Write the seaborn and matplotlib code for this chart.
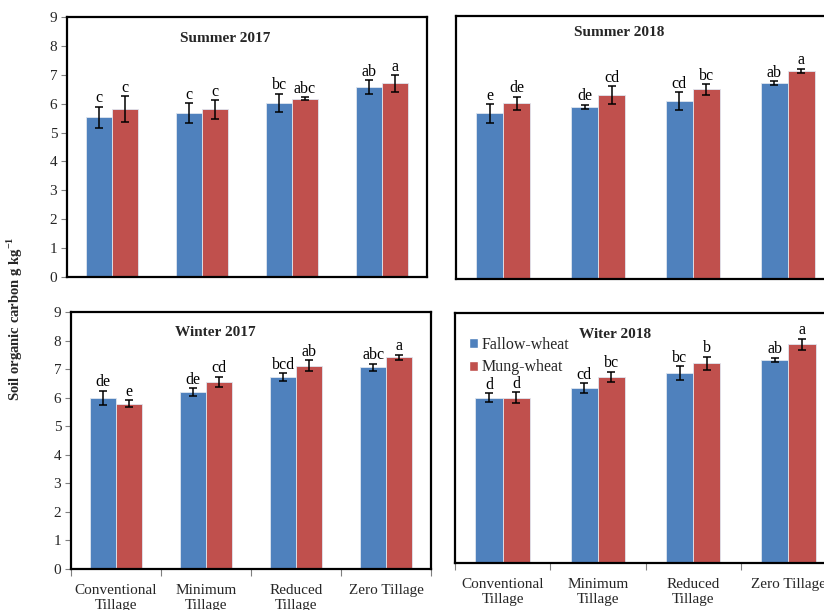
import matplotlib
matplotlib.use("Agg")
import matplotlib.pyplot as plt
import seaborn as sns
import pandas as pd
from matplotlib.ticker import FixedLocator
from matplotlib.patches import Patch

# Tillage treatments and cropping systems
categories = ["Conventional\nTillage", "Minimum\nTillage", "Reduced\nTillage", "Zero Tillage"]
systems = ["Fallow-wheat", "Mung-wheat"]

# Soil organic carbon (g kg-1), means and standard errors per season
summer17_fallow = [5.53, 5.68, 6.03, 6.57]
summer17_mung = [5.80, 5.80, 6.17, 6.70]
summer17_fallow_err = [0.36, 0.34, 0.31, 0.25]
summer17_mung_err = [0.45, 0.32, 0.06, 0.28]
summer17_fallow_lbl = ["c", "c", "bc", "ab"]
summer17_mung_lbl = ["c", "c", "abc", "a"]

summer18_fallow = [5.67, 5.89, 6.09, 6.70]
summer18_mung = [6.01, 6.29, 6.49, 7.13]
summer18_fallow_err = [0.32, 0.07, 0.31, 0.07]
summer18_mung_err = [0.23, 0.30, 0.18, 0.07]
summer18_fallow_lbl = ["e", "de", "cd", "ab"]
summer18_mung_lbl = ["de", "cd", "bc", "a"]

winter17_fallow = [6.00, 6.20, 6.72, 7.06]
winter17_mung = [5.79, 6.55, 7.12, 7.41]
winter17_fallow_err = [0.25, 0.13, 0.14, 0.13]
winter17_mung_err = [0.13, 0.18, 0.20, 0.09]
winter17_fallow_lbl = ["de", "de", "bcd", "abc"]
winter17_mung_lbl = ["e", "cd", "ab", "a"]

winter18_fallow = [5.95, 6.29, 6.83, 7.32]
winter18_mung = [5.95, 6.69, 7.19, 7.88]
winter18_fallow_err = [0.16, 0.18, 0.25, 0.07]
winter18_mung_err = [0.19, 0.19, 0.23, 0.20]
winter18_fallow_lbl = ["d", "cd", "bc", "ab"]
winter18_mung_lbl = ["d", "bc", "b", "a"]

y_ticks = [0, 1, 2, 3, 4, 5, 6, 7, 8, 9]

BLUE = "#4F81BD"
RED = "#C0504D"

sns.set_theme(style="white")
plt.rcParams["font.family"] = ["Liberation Serif", "DejaVu Serif"]
plt.rcParams["mathtext.fontset"] = "custom"
plt.rcParams["mathtext.rm"] = "Liberation Serif"
plt.rcParams["mathtext.bf"] = "Liberation Serif:bold"

FS = 10.5

fig = plt.figure(figsize=(8.24, 6.10), dpi=100)

W, H = 824.0, 610.0


def rect(left, right, top, bottom):
    return [left / W, (H - bottom) / H, (right - left) / W, (bottom - top) / H]


panels = [
    dict(pos=rect(67, 427, 17, 277), title="Summer 2017", tpos=(225, 38),
         f=summer17_fallow, m=summer17_mung, fe=summer17_fallow_err, me=summer17_mung_err,
         fl=summer17_fallow_lbl, ml=summer17_mung_lbl, yt=True, xt=False, legend=False),
    dict(pos=rect(456, 835, 16, 279), title="Summer 2018", tpos=(619, 33),
         f=summer18_fallow, m=summer18_mung, fe=summer18_fallow_err, me=summer18_mung_err,
         fl=summer18_fallow_lbl, ml=summer18_mung_lbl, yt=False, xt=False, legend=False),
    dict(pos=rect(71, 431, 312, 569), title="Winter 2017", tpos=(215, 332),
         f=winter17_fallow, m=winter17_mung, fe=winter17_fallow_err, me=winter17_mung_err,
         fl=winter17_fallow_lbl, ml=winter17_mung_lbl, yt=True, xt=True, legend=False),
    dict(pos=rect(455, 836, 313, 563), title="Witer 2018", tpos=(615, 334),
         f=winter18_fallow, m=winter18_mung, fe=winter18_fallow_err, me=winter18_mung_err,
         fl=winter18_fallow_lbl, ml=winter18_mung_lbl, yt=False, xt=True, legend=True),
]

for p in panels:
    ax = fig.add_axes(p["pos"])
    df = pd.DataFrame({
        "Tillage": categories * 2,
        "System": [systems[0]] * 4 + [systems[1]] * 4,
        "SOC": p["f"] + p["m"],
    })
    sns.barplot(data=df, x="Tillage", y="SOC", hue="System", order=categories,
                hue_order=systems, palette=[BLUE, RED], saturation=1, width=0.57,
                errorbar=None, edgecolor="#dfe6f0", linewidth=0.6, legend=False, ax=ax)

    errs = [p["fe"], p["me"]]
    lbls = [p["fl"], p["ml"]]
    for cont, err, lbl in zip(ax.containers, errs, lbls):
        xs = [b.get_x() + b.get_width() / 2 for b in cont]
        hs = [b.get_height() for b in cont]
        ax.errorbar(xs, hs, yerr=err, fmt="none", ecolor="black", elinewidth=1.1,
                    capsize=3, capthick=1.1, zorder=5)
        for x, h, e, t in zip(xs, hs, err, lbl):
            ax.annotate(t, (x, h + e), xytext=(0, 0.3), textcoords="offset points",
                        ha="center", va="bottom", fontsize=11.5, color="black")

    ax.set_xlim(-0.5, 3.5)
    ax.set_ylim(0, 9)
    ax.set_xlabel("")
    ax.set_ylabel("")
    for s in ax.spines.values():
        s.set_visible(True)
        s.set_color("black")
        s.set_linewidth(1.6)

    if p["yt"]:
        ax.set_yticks(y_ticks)
        ax.set_yticklabels([str(v) for v in y_ticks], fontsize=11)
        ax.tick_params(axis="y", direction="out", length=4, width=0.8, color="#808080",
                       left=True, pad=3)
    else:
        ax.set_yticks([])

    if p["xt"]:
        ax.set_xticks(range(len(categories)))
        ax.set_xticklabels(categories, fontsize=11, linespacing=1.15)
        ax.tick_params(axis="x", which="major", length=0, pad=11)
        ax.xaxis.set_minor_locator(FixedLocator([-0.5, 0.5, 1.5, 2.5, 3.5]))
        ax.tick_params(axis="x", which="minor", direction="out", length=5, width=0.8,
                       color="#808080", bottom=True)
    else:
        ax.set_xticks([])

    fig.text(p["tpos"][0] / W, 1 - p["tpos"][1] / H, p["title"], ha="center",
             va="center", fontsize=11, fontweight="bold")

    if p["legend"]:
        handles = [Patch(facecolor=BLUE, edgecolor="white"),
                   Patch(facecolor=RED, edgecolor="white")]
        ax.legend(handles, systems, loc="upper left", bbox_to_anchor=(0.038, 0.905),
                  frameon=False, fontsize=11.5, handlelength=0.55, handleheight=0.55,
                  handletextpad=0.2, labelspacing=0.42, borderaxespad=0, borderpad=0)

fig.text(15 / W, 1 - 319 / H, "Soil organic carbon g kg$^{\\mathbf{-1}}$", rotation=90,
         ha="center", va="center", fontsize=FS, fontweight="bold")

fig.savefig("out.png", dpi=100)
